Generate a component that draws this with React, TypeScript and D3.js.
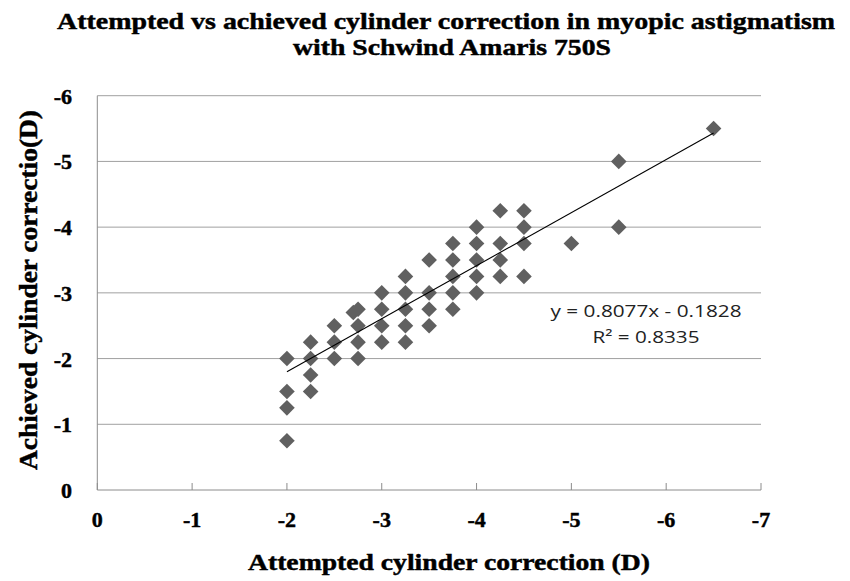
import React from "react";
import * as d3 from "d3";

const titleLines = [
  "Attempted vs achieved cylinder correction in myopic astigmatism",
  "with Schwind Amaris 750S",
];
const xLabel = "Attempted cylinder correction (D)";
const yLabel = "Achieved cylinder correctio(D)";
const xTicks = [0, -1, -2, -3, -4, -5, -6, -7];
const yTicks = [0, -1, -2, -3, -4, -5, -6];

// attempted (x) and achieved (y) cylinder, in dioptres
const attempted = [
  -2, -2, -2, -2,
  -2.25, -2.25, -2.25, -2.25,
  -2.5, -2.5, -2.5,
  -2.7, -2.75, -2.75, -2.75, -2.75,
  -3, -3, -3, -3,
  -3.25, -3.25, -3.25, -3.25, -3.25,
  -3.5, -3.5, -3.5, -3.5,
  -3.75, -3.75, -3.75, -3.75, -3.75,
  -4, -4, -4, -4, -4,
  -4.25, -4.25, -4.25, -4.25,
  -4.5, -4.5, -4.5, -4.5,
  -5,
  -5.5, -5.5,
  -6.5,
];
const achieved = [
  -2, -1.5, -1.25, -0.75,
  -2.25, -2, -1.75, -1.5,
  -2.5, -2.25, -2,
  -2.7, -2.75, -2.5, -2.25, -2,
  -3, -2.75, -2.5, -2.25,
  -3.25, -3, -2.75, -2.5, -2.25,
  -3.5, -3, -2.75, -2.5,
  -3.75, -3.5, -3.25, -3, -2.75,
  -4, -3.75, -3.5, -3.25, -3,
  -4.25, -3.75, -3.5, -3.25,
  -4.25, -4, -3.75, -3.25,
  -3.75,
  -5, -4,
  -5.5,
];
const slope = 0.8077;
const intercept = -0.1828;
const eqText = "y = 0.8077x - 0.1828";
const r2Text = "R\u00B2 = 0.8335";

export default function App() {
  const W = 850, H = 581;
  const left = 97.3, right = 761, top = 95.7, bottom = 490;
  const x = d3.scaleLinear().domain([0, -7]).range([left, right]);
  const y = d3.scaleLinear().domain([0, -6]).range([bottom, top]);
  const diamond = (cx: number, cy: number, r: number) =>
    `M${cx},${cy - r}L${cx + r},${cy}L${cx},${cy + r}L${cx - r},${cy}Z`;
  const xExt = d3.extent(attempted) as [number, number];
  const line = d3.line<number>().x((d) => x(d)).y((d) => y(slope * d + intercept));
  const serif = "'Liberation Serif', 'Times New Roman', serif";
  const sans = "'Open Sans', 'Noto Sans', sans-serif";
  const heavy = { stroke: "#000", strokeWidth: 0.45 } as const;

  return (
    <svg width={W} height={H} style={{ position: "absolute", left: 0, top: 0, background: "#fff" }}>
      <rect width={W} height={H} fill="#fff" />
      {/* title */}
      <text x={446} y={29} textAnchor="middle" fontFamily={serif} fontWeight="bold" fontSize={23}
        textLength={778} lengthAdjust="spacingAndGlyphs" {...heavy}>{titleLines[0]}</text>
      <text x={452} y={55} textAnchor="middle" fontFamily={serif} fontWeight="bold" fontSize={23}
        textLength={318} lengthAdjust="spacingAndGlyphs" {...heavy}>{titleLines[1]}</text>

      {/* gridlines */}
      {yTicks.filter((t) => t !== 0).map((t) => (
        <line key={"g" + t} x1={left} x2={right} y1={y(t)} y2={y(t)} stroke="#a0a0a0" strokeWidth={1} />
      ))}
      {/* axes */}
      <line x1={left} x2={left} y1={top} y2={bottom} stroke="#8c8c8c" strokeWidth={1} />
      <line x1={left} x2={right} y1={bottom} y2={bottom} stroke="#8c8c8c" strokeWidth={1} />
      {xTicks.map((t) => (
        <line key={"xt" + t} x1={x(t)} x2={x(t)} y1={bottom} y2={bottom - 7} stroke="#8c8c8c" strokeWidth={1} />
      ))}

      {/* tick labels */}
      {xTicks.map((t) => (
        <text key={"xl" + t} x={x(t)} y={527} textAnchor="middle" fontFamily={serif} fontWeight="bold" fontSize={22} {...heavy}>
          {t === 0 ? "0" : "-" + Math.abs(t)}
        </text>
      ))}
      {yTicks.map((t) => (
        <text key={"yl" + t} x={72} y={y(t) + 8} textAnchor="end" fontFamily={serif} fontWeight="bold" fontSize={22} {...heavy}>
          {t === 0 ? "0" : "-" + Math.abs(t)}
        </text>
      ))}

      {/* points */}
      {attempted.map((a, i) => (
        <path key={"p" + i} d={diamond(x(a), y(achieved[i]), 7.8)} fill="#606060" />
      ))}

      {/* trendline */}
      <path d={line(xExt) || ""} stroke="#000" strokeWidth={1.1} fill="none" />

      {/* equation */}
      <text x={646} y={317} textAnchor="middle" fontFamily={sans} fontSize={17}
        fill="#222" textLength={191} lengthAdjust="spacingAndGlyphs">{eqText}</text>
      <text x={646} y={343} textAnchor="middle" fontFamily={sans} fontSize={17}
        fill="#222" textLength={107} lengthAdjust="spacingAndGlyphs">{r2Text}</text>

      {/* axis titles */}
      <text x={449} y={570} textAnchor="middle" fontFamily={serif} fontWeight="bold" fontSize={23}
        textLength={402} lengthAdjust="spacingAndGlyphs" {...heavy}>{xLabel}</text>
      <text transform={`translate(37,290) rotate(-90)`} textAnchor="middle" fontFamily={serif} fontWeight="bold"
        fontSize={25} textLength={360} lengthAdjust="spacingAndGlyphs" {...heavy}>{yLabel}</text>
    </svg>
  );
}
